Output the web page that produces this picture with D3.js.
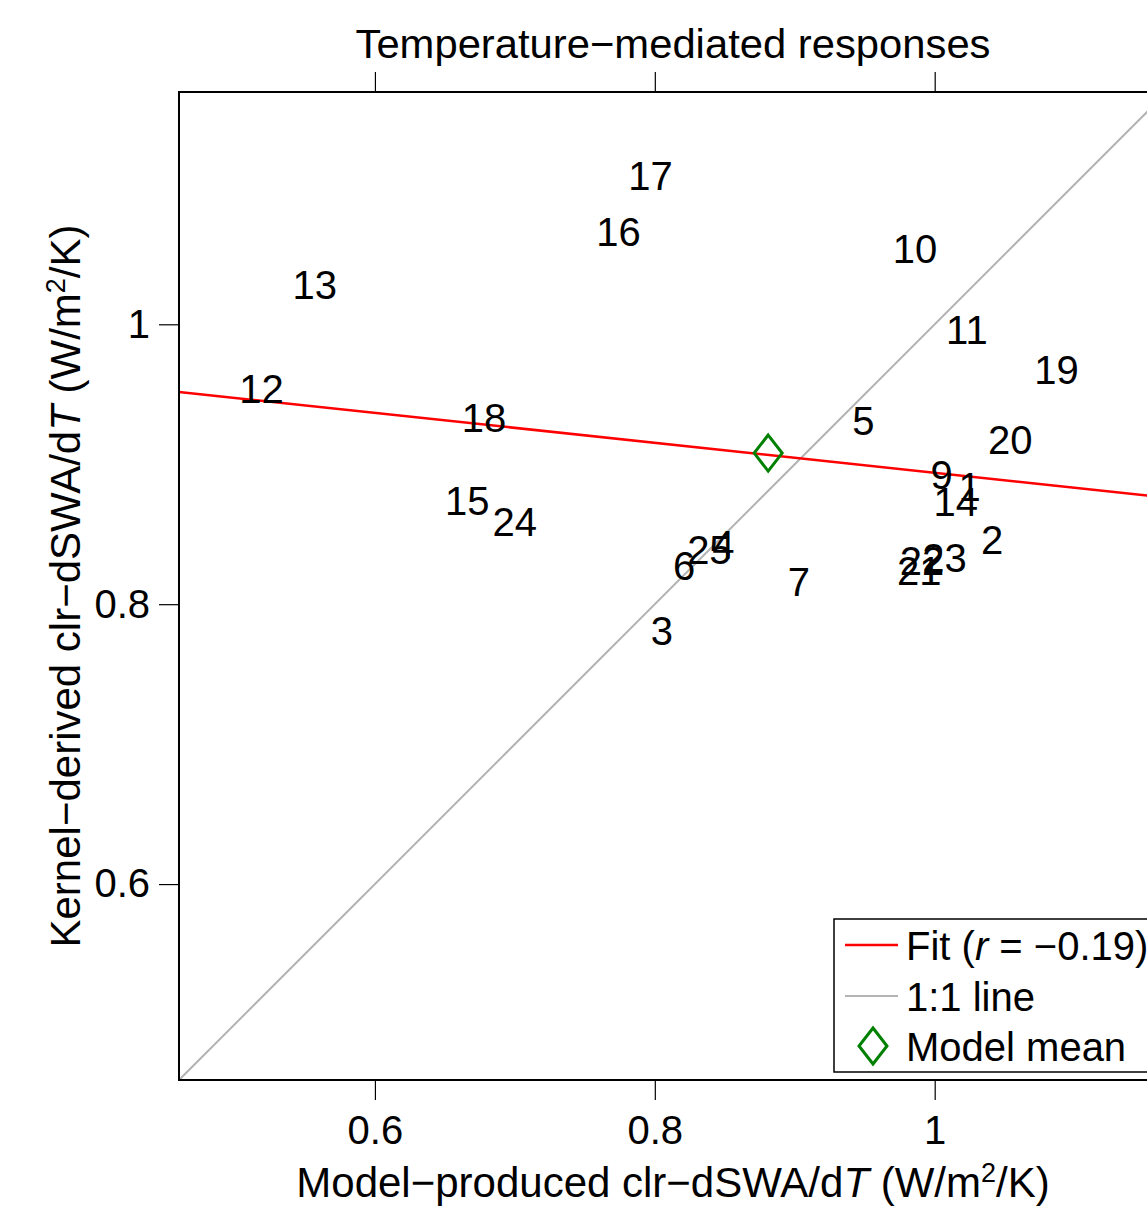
<!DOCTYPE html>
<html>
<head>
<meta charset="utf-8">
<script src="https://cdn.jsdelivr.net/npm/d3@7"></script>
<style>
  html, body { margin: 0; padding: 0; background: #fff; overflow: hidden; }
  svg { display: block; font-family: "Liberation Sans", Arial, Helvetica, sans-serif; }
</style>
</head>
<body>
<script>
// ---- data ----
const modelIds = ["1","2","3","4","5","6","7","9","10","11","12","13","14","15","16","17","18","19","20","21","22","23","24","25"];
const modelProduced = [1.025,1.041,0.805,0.849,0.949,0.821,0.903,1.005,0.986,1.023,0.519,0.557,1.015,0.666,0.774,0.797,0.678,1.087,1.054,0.989,0.991,1.007,0.700,0.839];
const kernelDerived = [0.884,0.846,0.781,0.842,0.931,0.827,0.816,0.892,1.054,0.996,0.954,1.028,0.873,0.874,1.066,1.106,0.933,0.967,0.917,0.824,0.831,0.833,0.859,0.839];
const modelMean = [0.881, 0.908];
const fitSlope = -0.107;
const fitIntercept = 1.0009;
const fitR = "−0.19";
const tickValues = [0.6, 0.8, 1];
const axisDomain = [0.46, 1.166];

// ---- layout ----
const W = 1147, H = 1211;
const L = 179, T = 92, B = 1080, R = 1167;
const svg = d3.select("body").append("svg").attr("width", W).attr("height", H);

const x = d3.scaleLinear().domain(axisDomain).range([L, R]);
const y = d3.scaleLinear().domain(axisDomain).range([B, T]);

const fmt = d => d3.format("")(d);
const fs = 40;

// clip
svg.append("defs").append("clipPath").attr("id", "plotclip")
  .append("rect").attr("x", L).attr("y", T).attr("width", R - L).attr("height", B - T);

const plot = svg.append("g").attr("clip-path", "url(#plotclip)");

// 1:1 line
plot.append("line")
  .attr("x1", x(axisDomain[0])).attr("y1", y(axisDomain[0]))
  .attr("x2", x(axisDomain[1])).attr("y2", y(axisDomain[1]))
  .attr("stroke", "#b4b4b4").attr("stroke-width", 2);

// fit line
plot.append("line")
  .attr("x1", x(axisDomain[0])).attr("y1", y(fitIntercept + fitSlope * axisDomain[0]))
  .attr("x2", x(axisDomain[1])).attr("y2", y(fitIntercept + fitSlope * axisDomain[1]))
  .attr("stroke", "#ff0000").attr("stroke-width", 2.5);

// labels
plot.selectAll("text.pt").data(modelIds).join("text")
  .attr("class", "pt")
  .attr("x", (d, i) => x(modelProduced[i]))
  .attr("y", (d, i) => y(kernelDerived[i]))
  .attr("text-anchor", "middle")
  .attr("dominant-baseline", "central")
  .attr("font-size", fs)
  .attr("fill", "#000")
  .text(d => d);

// model mean diamond
const dw = 14, dh = 18;
function diamond(cx, cy) {
  return `M${cx},${cy - dh}L${cx + dw},${cy}L${cx},${cy + dh}L${cx - dw},${cy}Z`;
}
plot.append("path")
  .attr("d", diamond(x(modelMean[0]), y(modelMean[1])))
  .attr("fill", "none").attr("stroke", "#008000").attr("stroke-width", 3);

// axes
const styleAxis = g => {
  g.select(".domain").remove();
  g.selectAll(".tick line").attr("stroke", "#000").attr("stroke-width", 1.2);
  g.selectAll(".tick text").attr("font-size", fs).attr("fill", "#000")
    .attr("font-family", "'Liberation Sans', Arial, sans-serif");
};
svg.append("g").attr("transform", `translate(0,${B})`)
  .call(d3.axisBottom(x).tickValues(tickValues).tickFormat(fmt).tickSize(20).tickPadding(16))
  .call(styleAxis);
svg.append("g").attr("transform", `translate(0,${T})`)
  .call(d3.axisTop(x).tickValues(tickValues).tickFormat("").tickSize(20))
  .call(styleAxis);
svg.append("g").attr("transform", `translate(${L},0)`)
  .call(d3.axisLeft(y).tickValues(tickValues).tickFormat(fmt).tickSize(20).tickPadding(9))
  .call(styleAxis);
svg.append("g").attr("transform", `translate(${R},0)`)
  .call(d3.axisRight(y).tickValues(tickValues).tickFormat("").tickSize(20))
  .call(styleAxis);

// frame
svg.append("rect").attr("x", L).attr("y", T).attr("width", R - L).attr("height", B - T)
  .attr("fill", "none").attr("stroke", "#000").attr("stroke-width", 2);

// title
svg.append("text").attr("x", (L + R) / 2).attr("y", 58)
  .attr("text-anchor", "middle").attr("font-size", 41)
  .attr("textLength", 635).attr("lengthAdjust", "spacingAndGlyphs")
  .text("Temperature−mediated responses");

// x label
const xl = svg.append("text").attr("x", (L + R) / 2).attr("y", 1197)
  .attr("text-anchor", "middle").attr("font-size", 42);
xl.append("tspan").text("Model−produced clr−dSWA/d");
xl.append("tspan").attr("font-style", "italic").text("T");
xl.append("tspan").text(" (W/m");
xl.append("tspan").attr("font-size", 27).attr("dy", -15).text("2");
xl.append("tspan").attr("dy", 15).text("/K)");

// y label
const yl = svg.append("text")
  .attr("transform", `translate(80,${(T + B) / 2}) rotate(-90)`)
  .attr("text-anchor", "middle").attr("font-size", 42);
yl.append("tspan").text("Kernel−derived clr−dSWA/d");
yl.append("tspan").attr("font-style", "italic").text("T");
yl.append("tspan").text(" (W/m");
yl.append("tspan").attr("font-size", 27).attr("dy", -15).text("2");
yl.append("tspan").attr("dy", 15).text("/K)");

// legend
const lg = svg.append("g");
lg.append("rect").attr("x", 834).attr("y", 919).attr("width", 340).attr("height", 153)
  .attr("fill", "#fff").attr("stroke", "#000").attr("stroke-width", 1.5);
lg.append("line").attr("x1", 845).attr("x2", 898).attr("y1", 945).attr("y2", 945)
  .attr("stroke", "#ff0000").attr("stroke-width", 2.5);
const lt1 = lg.append("text").attr("x", 906).attr("y", 960).attr("font-size", fs);
lt1.append("tspan").text("Fit (");
lt1.append("tspan").attr("font-style", "italic").text("r");
lt1.append("tspan").text(" = " + fitR + ")");
lg.append("line").attr("x1", 845).attr("x2", 898).attr("y1", 996).attr("y2", 996)
  .attr("stroke", "#b4b4b4").attr("stroke-width", 2);
lg.append("text").attr("x", 906).attr("y", 1011).attr("font-size", fs).text("1:1 line");
lg.append("path").attr("d", diamond(873, 1046))
  .attr("fill", "none").attr("stroke", "#008000").attr("stroke-width", 3);
lg.append("text").attr("x", 906).attr("y", 1061).attr("font-size", fs).text("Model mean");
</script>
</body>
</html>
